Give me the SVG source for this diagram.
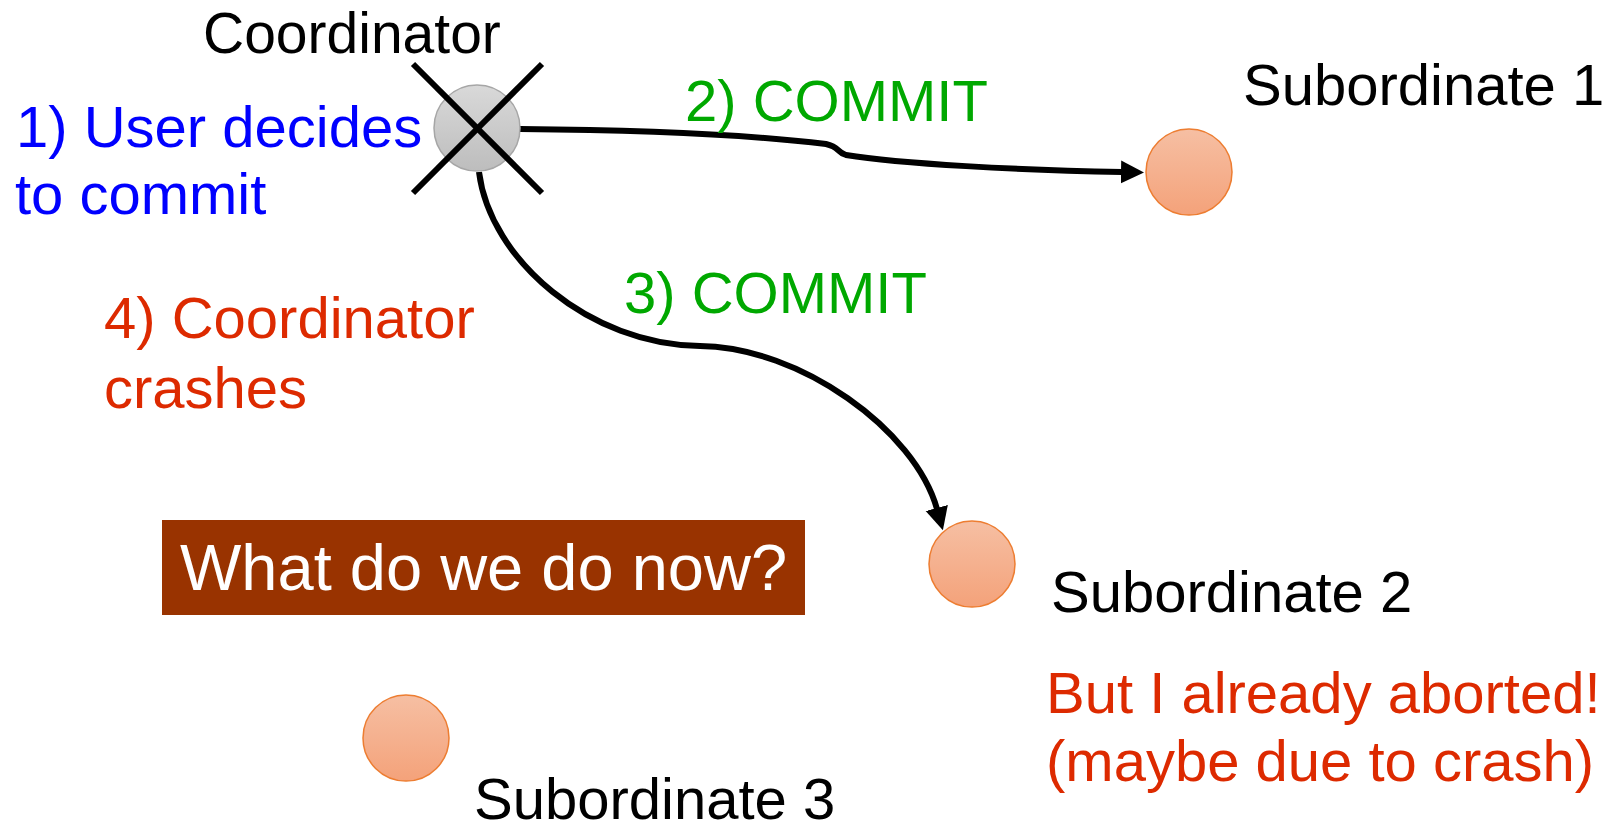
<svg xmlns="http://www.w3.org/2000/svg" width="1608" height="823" viewBox="0 0 1608 823">
<style>
text{font-family:"Liberation Sans",Arial,sans-serif;font-size:58px}
.lbl{fill:#000}
.blue{fill:#0000ff}
.green{fill:#00a800}
.red{fill:#dd2a00}
.sub{fill:url(#subGrad);stroke:#ed7d31;stroke-width:1.5}
.conn{fill:none;stroke:#000;stroke-width:6;marker-end:url(#arrow)}
</style>
<defs>
<linearGradient id="subGrad" x1="0" y1="0" x2="0" y2="1">
<stop offset="0" stop-color="#f6bfa3"/>
<stop offset="1" stop-color="#f4a27a"/>
</linearGradient>
<linearGradient id="coordGrad" x1="0" y1="0" x2="0" y2="1">
<stop offset="0" stop-color="#d9d9d9"/>
<stop offset="1" stop-color="#bdbdbd"/>
</linearGradient>
<marker id="arrow" markerUnits="userSpaceOnUse" markerWidth="26" markerHeight="24" refX="1" refY="11.5" orient="auto">
<path d="M0,0 L23,11.5 L0,23 z" fill="#000"/>
</marker>
</defs>
<g id="connectors">
<path class="conn" d="M520,129 C650,130 760,136 826,144 C840,147 836,152 846,155 C900,164 1020,170 1122,172"/>
<path class="conn" d="M479,172 C490,260 590,345 700,346 C800,347 915,430 937,509"/>
</g>
<g id="coordinator">
<circle cx="477" cy="128" r="43" fill="url(#coordGrad)" stroke="#a6a6a6" stroke-width="1.5"/>
<line x1="413" y1="64" x2="542" y2="193" stroke="#000" stroke-width="6"/>
<line x1="542" y1="64" x2="413" y2="193" stroke="#000" stroke-width="6"/>
<text class="lbl" x="203" y="53" style="font-size:57px">Coordinator</text>
</g>
<g id="subordinate1">
<circle class="sub" cx="1189" cy="172" r="43"/>
<text class="lbl" x="1243" y="105">Subordinate 1</text>
</g>
<g id="subordinate2">
<circle class="sub" cx="972" cy="564" r="43"/>
<text class="lbl" x="1051" y="612">Subordinate 2</text>
</g>
<g id="subordinate3">
<circle class="sub" cx="406" cy="738" r="43"/>
<text class="lbl" x="474" y="819">Subordinate 3</text>
</g>
<g id="labels">
<text class="blue" x="16" y="147">1) User decides</text>
<text class="blue" x="15" y="214">to commit</text>
<text class="green" x="685" y="121">2) COMMIT</text>
<text class="green" x="624" y="313">3) COMMIT</text>
<text class="red" x="104" y="338">4) Coordinator</text>
<text class="red" x="104" y="408">crashes</text>
<text class="red" x="1046" y="713">But I already aborted!</text>
<text class="red" x="1046" y="781">(maybe due to crash)</text>
</g>
<g id="question">
<rect x="162" y="520" width="643" height="95" fill="#993300"/>
<text x="180" y="590" fill="#fff" style="font-size:65px">What do we do now?</text>
</g>
</svg>
